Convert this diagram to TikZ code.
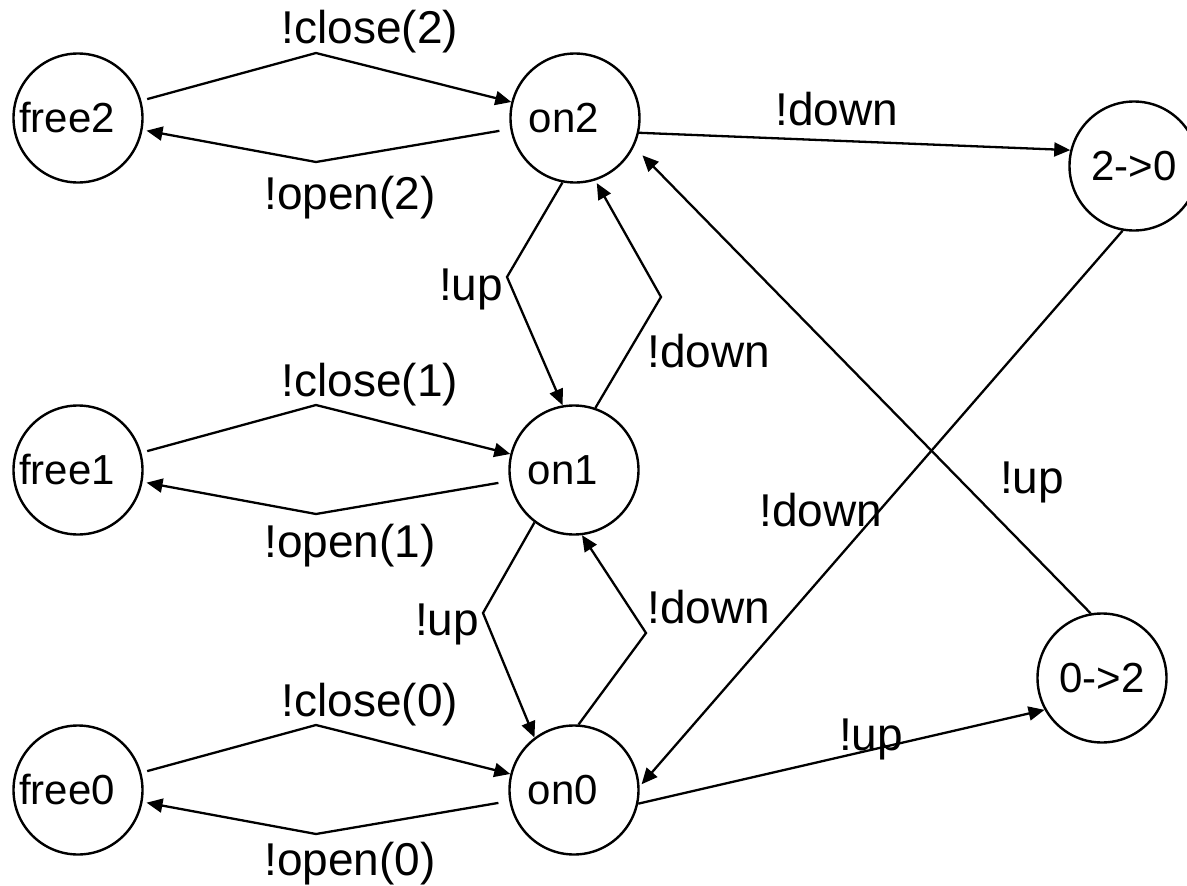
\documentclass[tikz,border=0pt]{standalone}
\usepackage{fontspec}
\setmainfont{Liberation Sans}
\usetikzlibrary{arrows.meta}

\tikzset{
  state/.style={draw,circle,line width=2.4pt,minimum size=129pt,inner sep=0pt,
    font=\fontsize{42}{48}\selectfont},
  % floor states: text sits a bit left of centre
  floor/.style={state,execute at end node={\hspace*{22pt}}},
  trans/.style={line width=2.3pt,-{Triangle[length=16pt,width=14pt]}},
  lbl/.style={inner sep=0pt,anchor=base,font=\fontsize{46}{52}\selectfont},
}

\begin{document}
\begin{tikzpicture}[x=1pt,y=-1pt]
  \useasboundingbox (0,0) rectangle (1187,886);

  % states
  \node[floor] (free2) at (78,118) {free2};
  \node[floor] (on2) at (575,118) {on2};
  \node[floor] (free1) at (78,470) {free1};
  \node[floor] (on1) at (574,470) {on1};
  \node[floor] (free0) at (78,790) {free0};
  \node[floor] (on0) at (574,790) {on0};
  \node[state] (dn20) at (1134,166) {2->0};
  \node[state] (up02) at (1102,678) {0->2};

  % close / open per floor
  \draw[trans,shorten <=6pt] (free2) -- (316,53) -- (on2);
  \draw[trans,shorten <=11pt,shorten >=4pt] (on2) -- (316,162) -- (free2);
  \draw[trans,shorten <=6pt] (free1) -- (316,405) -- (on1);
  \draw[trans,shorten <=11pt,shorten >=4pt] (on1) -- (316,514) -- (free1);
  \draw[trans,shorten <=6pt] (free0) -- (316,725) -- (on0);
  \draw[trans,shorten <=11pt,shorten >=4pt] (on0) -- (316,834) -- (free0);
  \node[lbl] (close2) at (370,43) {!close(2)};
  \node[lbl] (open2) at (350,209) {!open(2)};
  \node[lbl] (close1) at (370,396) {!close(1)};
  \node[lbl] (open1) at (350,557) {!open(1)};
  \node[lbl] (close0) at (370,716) {!close(0)};
  \node[lbl] (open0) at (350,875) {!open(0)};

  % one floor up / down
  \draw[trans] (on2.-101) -- (507,277) -- (on1.100);
  \draw[trans,shorten >=3pt] (on1.71) -- (661,297) -- (on2.-72);
  \draw[trans] (on1.-127) -- (483,613) -- (on0.127);
  \draw[trans] (on0.86) -- (646,633) -- (on1.-83);
  \node[lbl] (up21) at (471,300) {!up};
  \node[lbl] (down12) at (709,367) {!down};
  \node[lbl] (up10) at (447,635) {!up};
  \node[lbl] (down01) at (709,623) {!down};

  % express runs between 2 and 0
  \draw[trans] (on2.-13) -- (dn20.166);
  \draw[trans,shorten >=3pt] (dn20.-100) -- (on0.3);
  \draw[trans] (on0.-12) -- (up02.209);
  \draw[trans,shorten >=12pt] (up02.100) -- (on2.-26);
  \node[lbl] (down20) at (837,125) {!down};
  \node[lbl] (down20b) at (821,526) {!down};
  \node[lbl] (up02a) at (1032,493) {!up};
  \node[lbl] (up02b) at (871,750) {!up};
\end{tikzpicture}
\end{document}
